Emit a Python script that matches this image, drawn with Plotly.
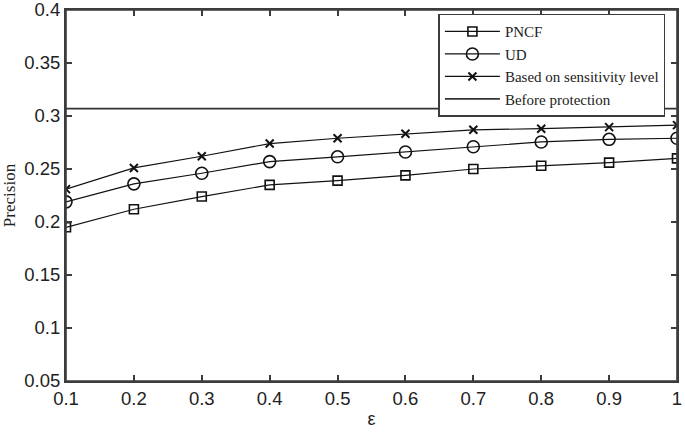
import plotly.graph_objects as go

# epsilon values on the x axis
eps = [0.1, 0.2, 0.3, 0.4, 0.5, 0.6, 0.7, 0.8, 0.9, 1.0]

# precision for each method
pncf = [0.195, 0.212, 0.224, 0.235, 0.239, 0.244, 0.250, 0.253, 0.256, 0.260]
ud = [0.219, 0.236, 0.246, 0.257, 0.2615, 0.266, 0.271, 0.2755, 0.278, 0.279]
sens_level = [0.231, 0.251, 0.262, 0.274, 0.279, 0.2833, 0.287, 0.288, 0.2895, 0.2914]
before_protection = 0.307

y_ticks = [0.05, 0.1, 0.15, 0.2, 0.25, 0.3, 0.35, 0.4]
y_tick_text = ["0.05", "0.1", "0.15", "0.2", "0.25", "0.3", "0.35", "0.4"]
x_ticks = eps
x_tick_text = ["0.1", "0.2", "0.3", "0.4", "0.5", "0.6", "0.7", "0.8", "0.9", "1"]

line_col = "#111111"
axis_col = "#3c3c3c"
text_col = "#222222"

fig = go.Figure()

fig.add_trace(go.Scatter(
    x=eps, y=pncf, name="PNCF", mode="lines+markers",
    line=dict(color=line_col, width=1.2),
    marker=dict(symbol="square-open", size=9, color=line_col, line=dict(width=1.6)),
))
fig.add_trace(go.Scatter(
    x=eps, y=ud, name="UD", mode="lines+markers",
    line=dict(color=line_col, width=1.2),
    marker=dict(symbol="circle-open", size=12, color=line_col, line=dict(width=1.6)),
))
fig.add_trace(go.Scatter(
    x=eps, y=sens_level, name="Based on sensitivity level", mode="lines+markers",
    line=dict(color=line_col, width=1.2),
    marker=dict(symbol="x-thin-open", size=8, color=line_col, line=dict(width=2)),
))
fig.add_trace(go.Scatter(
    x=[eps[0], eps[-1]], y=[before_protection, before_protection],
    name="Before protection", mode="lines",
    line=dict(color="#333333", width=1.8),
))

axis_common = dict(
    showline=True, linecolor=axis_col, linewidth=2, mirror="ticks",
    ticks="inside", ticklen=6, tickcolor=axis_col, tickwidth=2,
    showgrid=False, zeroline=False, automargin=False,
    ticklabeloverflow="allow",
    tickfont=dict(family="Liberation Sans, Arial", size=18.5, color=text_col),
)

fig.update_xaxes(
    range=[0.1, 1.0], tickvals=x_ticks, ticktext=x_tick_text,
    title=dict(text="ε", font=dict(family="Liberation Sans, Arial", size=18, color=text_col), standoff=4),
    **axis_common,
)
fig.update_yaxes(
    range=[0.05, 0.4], tickvals=y_ticks, ticktext=y_tick_text,
    title=dict(text="Precision", font=dict(family="Liberation Serif, Times New Roman", size=17, color=text_col), standoff=4),
    **axis_common,
)

# box frame round the plotting area
fig.add_shape(type="rect", xref="paper", yref="paper", x0=0, y0=0, x1=1, y1=1,
              line=dict(color=axis_col, width=1.6), layer="above")

fig.update_layout(
    width=685, height=433,
    margin=dict(l=66, r=8, t=10, b=52),
    plot_bgcolor="white", paper_bgcolor="white",
    showlegend=True,
    legend=dict(
        x=0.6095, y=0.99, xanchor="left", yanchor="top",
        bgcolor="white", bordercolor=axis_col, borderwidth=1.5,
        font=dict(family="Liberation Serif, Times New Roman", size=15, color=text_col),
        tracegroupgap=0, itemwidth=55,
    ),
)

# drop the default page margin so the figure sits at the window's top-left
fig.write_html("out.html", post_script="document.body.style.margin='0px';",
               config={"displayModeBar": False})
